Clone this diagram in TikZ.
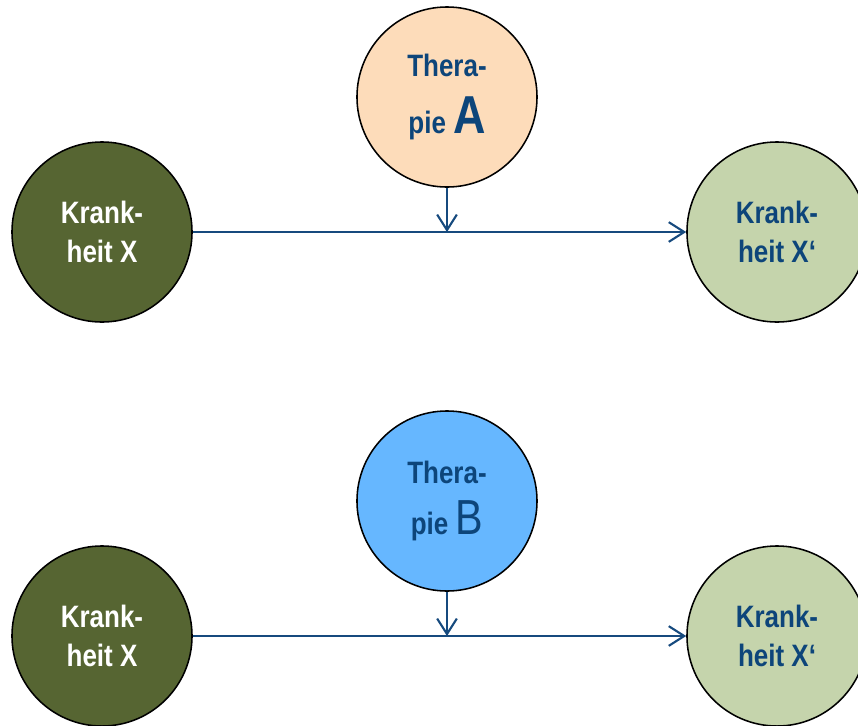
\documentclass[tikz,border=0pt]{standalone}
\usepackage{fontspec}
\setmainfont[FakeStretch=0.84]{Liberation Sans}
\usepackage{tikz}
\usetikzlibrary{
  arrows.meta,
  positioning,
  calc
}
\definecolor{krankdunkel}{RGB}{86,101,50}
\definecolor{krankhell}{RGB}{197,212,172}
\definecolor{therapfirsich}{RGB}{253,220,186}
\definecolor{therapblau}{RGB}{102,183,255}
\definecolor{textblau}{RGB}{13,69,122}
\definecolor{pfeilblau}{RGB}{22,74,126}

\begin{document}
\begin{tikzpicture}[
      x=0.025cm, y=-0.025cm,
      kreis/.style={circle, draw=black, line width=1.1pt, minimum size=4.5cm, inner sep=0pt, align=center, font=\fontsize{22}{28}\selectfont\bfseries},
      krankvor/.style={kreis, fill=krankdunkel, text=white},
      krankach/.style={kreis, fill=krankhell, text=textblau},
      therapie/.style={kreis, text=textblau},
      pfeil/.style={-{Straight Barb[length=11pt,width=14pt,line width=1.5pt]}, line width=1.5pt, pfeilblau}
  ]
    \useasboundingbox (0,0) rectangle (858,726);

    % Therapie A
    \node [therapie, fill=therapfirsich] (thA) at (447,97) {Thera-\\[12pt]pie {\fontsize{38}{38}\selectfont A}};
    \node [krankvor] (kxA) at (102,232) {Krank-\\heit X};
    \node [krankach] (kyA) at (777,232) {Krank-\\heit X‘};
    \coordinate (mA) at (thA.south |- kxA.east);

    \draw [pfeil] (kxA.east) -- (kyA.west);
    \draw [pfeil] (thA.south) -- (mA);

    % Therapie B
    \node [therapie, fill=therapblau] (thB) at (447,501) {Thera-\\[8pt]pie {\fontsize{35}{35}\selectfont\mdseries B}};
    \node [krankvor] (kxB) at (102,636) {Krank-\\heit X};
    \node [krankach] (kyB) at (777,636) {Krank-\\heit X‘};
    \coordinate (mB) at (thB.south |- kxB.east);

    \draw [pfeil] (kxB.east) -- (kyB.west);
    \draw [pfeil] (thB.south) -- (mB);
  \end{tikzpicture}
\end{document}
